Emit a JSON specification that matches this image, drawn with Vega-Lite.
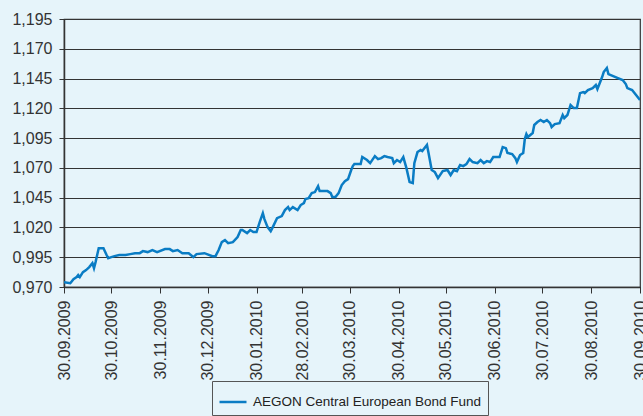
{
  "$schema": "https://vega.github.io/schema/vega-lite/v6.json",
  "width": 576,
  "height": 268,
  "autosize": "none",
  "padding": {"left": 64, "top": 19, "right": 3, "bottom": 129},
  "background": "#e6f4fa",
  "config": {
    "view": {"stroke": "#333333", "strokeWidth": 1.2},
    "font": "Liberation Sans",
    "axis": {"labelFont": "Liberation Sans", "labelColor": "#333333", "labelFontSize": 16, "domainColor": "#333333", "tickColor": "#333333", "domainWidth": 1.5}
  },
  "data": {
    "values": [
      {"date": "2009-09-30", "value": 0.9741},
      {"date": "2009-10-04", "value": 0.9732},
      {"date": "2009-10-06", "value": 0.9766},
      {"date": "2009-10-08", "value": 0.9783},
      {"date": "2009-10-09", "value": 0.9800},
      {"date": "2009-10-10", "value": 0.9783},
      {"date": "2009-10-12", "value": 0.9825},
      {"date": "2009-10-14", "value": 0.9842},
      {"date": "2009-10-16", "value": 0.9867},
      {"date": "2009-10-18", "value": 0.9900},
      {"date": "2009-10-19", "value": 0.9858},
      {"date": "2009-10-20", "value": 0.9909},
      {"date": "2009-10-22", "value": 1.0026},
      {"date": "2009-10-25", "value": 1.0026},
      {"date": "2009-10-27", "value": 0.9968},
      {"date": "2009-10-28", "value": 0.9942},
      {"date": "2009-10-30", "value": 0.9951},
      {"date": "2009-11-01", "value": 0.9959},
      {"date": "2009-11-04", "value": 0.9968},
      {"date": "2009-11-08", "value": 0.9968},
      {"date": "2009-11-11", "value": 0.9976},
      {"date": "2009-11-14", "value": 0.9984},
      {"date": "2009-11-17", "value": 0.9984},
      {"date": "2009-11-19", "value": 1.0001},
      {"date": "2009-11-22", "value": 0.9993},
      {"date": "2009-11-25", "value": 1.0010},
      {"date": "2009-11-28", "value": 0.9993},
      {"date": "2009-12-03", "value": 1.0018},
      {"date": "2009-12-06", "value": 1.0018},
      {"date": "2009-12-08", "value": 1.0001},
      {"date": "2009-12-11", "value": 1.0010},
      {"date": "2009-12-14", "value": 0.9984},
      {"date": "2009-12-18", "value": 0.9984},
      {"date": "2009-12-21", "value": 0.9951},
      {"date": "2009-12-23", "value": 0.9976},
      {"date": "2009-12-28", "value": 0.9984},
      {"date": "2010-01-02", "value": 0.9959},
      {"date": "2010-01-04", "value": 0.9959},
      {"date": "2010-01-06", "value": 1.0010},
      {"date": "2010-01-08", "value": 1.0077},
      {"date": "2010-01-10", "value": 1.0094},
      {"date": "2010-01-12", "value": 1.0068},
      {"date": "2010-01-15", "value": 1.0077},
      {"date": "2010-01-18", "value": 1.0119},
      {"date": "2010-01-20", "value": 1.0178},
      {"date": "2010-01-21", "value": 1.0178},
      {"date": "2010-01-24", "value": 1.0152},
      {"date": "2010-01-26", "value": 1.0178},
      {"date": "2010-01-28", "value": 1.0161},
      {"date": "2010-01-30", "value": 1.0161},
      {"date": "2010-02-01", "value": 1.0245},
      {"date": "2010-02-03", "value": 1.0320},
      {"date": "2010-02-04", "value": 1.0270},
      {"date": "2010-02-06", "value": 1.0203},
      {"date": "2010-02-08", "value": 1.0169},
      {"date": "2010-02-09", "value": 1.0194},
      {"date": "2010-02-12", "value": 1.0278},
      {"date": "2010-02-15", "value": 1.0295},
      {"date": "2010-02-17", "value": 1.0346},
      {"date": "2010-02-19", "value": 1.0371},
      {"date": "2010-02-20", "value": 1.0346},
      {"date": "2010-02-22", "value": 1.0371},
      {"date": "2010-02-25", "value": 1.0346},
      {"date": "2010-02-27", "value": 1.0388},
      {"date": "2010-03-01", "value": 1.0404},
      {"date": "2010-03-02", "value": 1.0438},
      {"date": "2010-03-04", "value": 1.0446},
      {"date": "2010-03-06", "value": 1.0488},
      {"date": "2010-03-08", "value": 1.0497},
      {"date": "2010-03-10", "value": 1.0547},
      {"date": "2010-03-11", "value": 1.0505},
      {"date": "2010-03-16", "value": 1.0505},
      {"date": "2010-03-18", "value": 1.0488},
      {"date": "2010-03-19", "value": 1.0455},
      {"date": "2010-03-21", "value": 1.0455},
      {"date": "2010-03-23", "value": 1.0488},
      {"date": "2010-03-25", "value": 1.0556},
      {"date": "2010-03-27", "value": 1.0589},
      {"date": "2010-03-29", "value": 1.0606},
      {"date": "2010-03-31", "value": 1.0682},
      {"date": "2010-04-01", "value": 1.0715},
      {"date": "2010-04-02", "value": 1.0732},
      {"date": "2010-04-06", "value": 1.0732},
      {"date": "2010-04-07", "value": 1.0791},
      {"date": "2010-04-10", "value": 1.0766},
      {"date": "2010-04-12", "value": 1.0740},
      {"date": "2010-04-15", "value": 1.0799},
      {"date": "2010-04-17", "value": 1.0774},
      {"date": "2010-04-19", "value": 1.0782},
      {"date": "2010-04-21", "value": 1.0799},
      {"date": "2010-04-23", "value": 1.0791},
      {"date": "2010-04-26", "value": 1.0782},
      {"date": "2010-04-27", "value": 1.0740},
      {"date": "2010-04-29", "value": 1.0766},
      {"date": "2010-05-01", "value": 1.0749},
      {"date": "2010-05-03", "value": 1.0791},
      {"date": "2010-05-05", "value": 1.0698},
      {"date": "2010-05-07", "value": 1.0581},
      {"date": "2010-05-09", "value": 1.0572},
      {"date": "2010-05-10", "value": 1.0740},
      {"date": "2010-05-12", "value": 1.0833},
      {"date": "2010-05-14", "value": 1.0850},
      {"date": "2010-05-15", "value": 1.0841},
      {"date": "2010-05-18", "value": 1.0892},
      {"date": "2010-05-19", "value": 1.0825},
      {"date": "2010-05-21", "value": 1.0682},
      {"date": "2010-05-23", "value": 1.0665},
      {"date": "2010-05-25", "value": 1.0614},
      {"date": "2010-05-28", "value": 1.0673},
      {"date": "2010-05-31", "value": 1.0682},
      {"date": "2010-06-02", "value": 1.0640},
      {"date": "2010-06-04", "value": 1.0682},
      {"date": "2010-06-06", "value": 1.0673},
      {"date": "2010-06-08", "value": 1.0724},
      {"date": "2010-06-10", "value": 1.0715},
      {"date": "2010-06-12", "value": 1.0732},
      {"date": "2010-06-14", "value": 1.0774},
      {"date": "2010-06-16", "value": 1.0749},
      {"date": "2010-06-19", "value": 1.0740},
      {"date": "2010-06-21", "value": 1.0766},
      {"date": "2010-06-23", "value": 1.0740},
      {"date": "2010-06-25", "value": 1.0757},
      {"date": "2010-06-27", "value": 1.0749},
      {"date": "2010-06-29", "value": 1.0791},
      {"date": "2010-07-03", "value": 1.0791},
      {"date": "2010-07-05", "value": 1.0875},
      {"date": "2010-07-07", "value": 1.0866},
      {"date": "2010-07-08", "value": 1.0825},
      {"date": "2010-07-11", "value": 1.0816},
      {"date": "2010-07-13", "value": 1.0782},
      {"date": "2010-07-14", "value": 1.0749},
      {"date": "2010-07-16", "value": 1.0808},
      {"date": "2010-07-18", "value": 1.0825},
      {"date": "2010-07-19", "value": 1.0942},
      {"date": "2010-07-20", "value": 1.0984},
      {"date": "2010-07-21", "value": 1.0959},
      {"date": "2010-07-24", "value": 1.0993},
      {"date": "2010-07-25", "value": 1.1060},
      {"date": "2010-07-27", "value": 1.1085},
      {"date": "2010-07-29", "value": 1.1102},
      {"date": "2010-07-31", "value": 1.1085},
      {"date": "2010-08-02", "value": 1.1102},
      {"date": "2010-08-04", "value": 1.1076},
      {"date": "2010-08-05", "value": 1.1043},
      {"date": "2010-08-07", "value": 1.1068},
      {"date": "2010-08-10", "value": 1.1076},
      {"date": "2010-08-12", "value": 1.1144},
      {"date": "2010-08-13", "value": 1.1118},
      {"date": "2010-08-15", "value": 1.1144},
      {"date": "2010-08-17", "value": 1.1228},
      {"date": "2010-08-19", "value": 1.1202},
      {"date": "2010-08-21", "value": 1.1202},
      {"date": "2010-08-23", "value": 1.1328},
      {"date": "2010-08-25", "value": 1.1337},
      {"date": "2010-08-26", "value": 1.1328},
      {"date": "2010-08-28", "value": 1.1354},
      {"date": "2010-08-31", "value": 1.1370},
      {"date": "2010-09-02", "value": 1.1396},
      {"date": "2010-09-03", "value": 1.1362},
      {"date": "2010-09-06", "value": 1.1463},
      {"date": "2010-09-07", "value": 1.1505},
      {"date": "2010-09-09", "value": 1.1538},
      {"date": "2010-09-10", "value": 1.1488},
      {"date": "2010-09-13", "value": 1.1471},
      {"date": "2010-09-16", "value": 1.1454},
      {"date": "2010-09-19", "value": 1.1438},
      {"date": "2010-09-21", "value": 1.1404},
      {"date": "2010-09-22", "value": 1.1370},
      {"date": "2010-09-25", "value": 1.1354},
      {"date": "2010-09-27", "value": 1.1320},
      {"date": "2010-09-30", "value": 1.1270}
    ]
  },
  "mark": {"type": "line", "strokeWidth": 2.5, "clip": true},
  "encoding": {
    "x": {
      "field": "date",
      "type": "temporal",
      "title": null,
      "scale": {
        "type": "utc",
        "domain": [
          {"year": 2009, "month": 9, "date": 30, "utc": true},
          {"year": 2010, "month": 9, "date": 30, "utc": true}
        ]
      },
      "axis": {
        "values": [
          {"year": 2009, "month": 9, "date": 30, "utc": true},
          {"year": 2009, "month": 10, "date": 30, "utc": true},
          {"year": 2009, "month": 11, "date": 30, "utc": true},
          {"year": 2009, "month": 12, "date": 30, "utc": true},
          {"year": 2010, "month": 1, "date": 30, "utc": true},
          {"year": 2010, "month": 2, "date": 28, "utc": true},
          {"year": 2010, "month": 3, "date": 30, "utc": true},
          {"year": 2010, "month": 4, "date": 30, "utc": true},
          {"year": 2010, "month": 5, "date": 30, "utc": true},
          {"year": 2010, "month": 6, "date": 30, "utc": true},
          {"year": 2010, "month": 7, "date": 30, "utc": true},
          {"year": 2010, "month": 8, "date": 30, "utc": true},
          {"year": 2010, "month": 9, "date": 30, "utc": true}
        ],
        "format": "%d.%m.%Y",
        "labelAngle": -90,
        "labelAlign": "right",
        "labelBaseline": "middle",
        "tickSize": 6,
        "labelPadding": 7,
        "grid": false,
        "labelOverlap": false,
        "labelBound": false,
        "labelFlush": false
      }
    },
    "y": {
      "field": "value",
      "type": "quantitative",
      "title": null,
      "scale": {"domain": [0.970, 1.195], "nice": false, "zero": false},
      "axis": {
        "values": [0.970, 0.995, 1.020, 1.045, 1.070, 1.095, 1.120, 1.145, 1.170, 1.195],
        "labelExpr": "replace(format(datum.value, '.3f'), '.', ',')",
        "tickSize": 5,
        "labelPadding": 7,
        "grid": true,
        "gridColor": "#333333",
        "gridWidth": 1,
        "gridOpacity": 1,
        "labelOverlap": false,
        "labelFlush": false
      }
    },
    "color": {
      "datum": "AEGON Central European Bond Fund",
      "scale": {"range": ["#0a7cc4"]},
      "legend": {
        "title": null,
        "orient": "none",
        "legendX": 148,
        "legendY": 362,
        "direction": "vertical",
        "symbolType": "stroke",
        "symbolSize": 729,
        "symbolStrokeWidth": 2.5,
        "labelFont": "Liberation Sans",
        "labelFontSize": 13.5,
        "labelLimit": 400,
        "labelColor": "#222222",
        "labelOffset": 5,
        "padding": 6,
        "strokeColor": "#555555",
        "fillColor": "#e6f4fa",
        "cornerRadius": 0
      }
    }
  }
}
